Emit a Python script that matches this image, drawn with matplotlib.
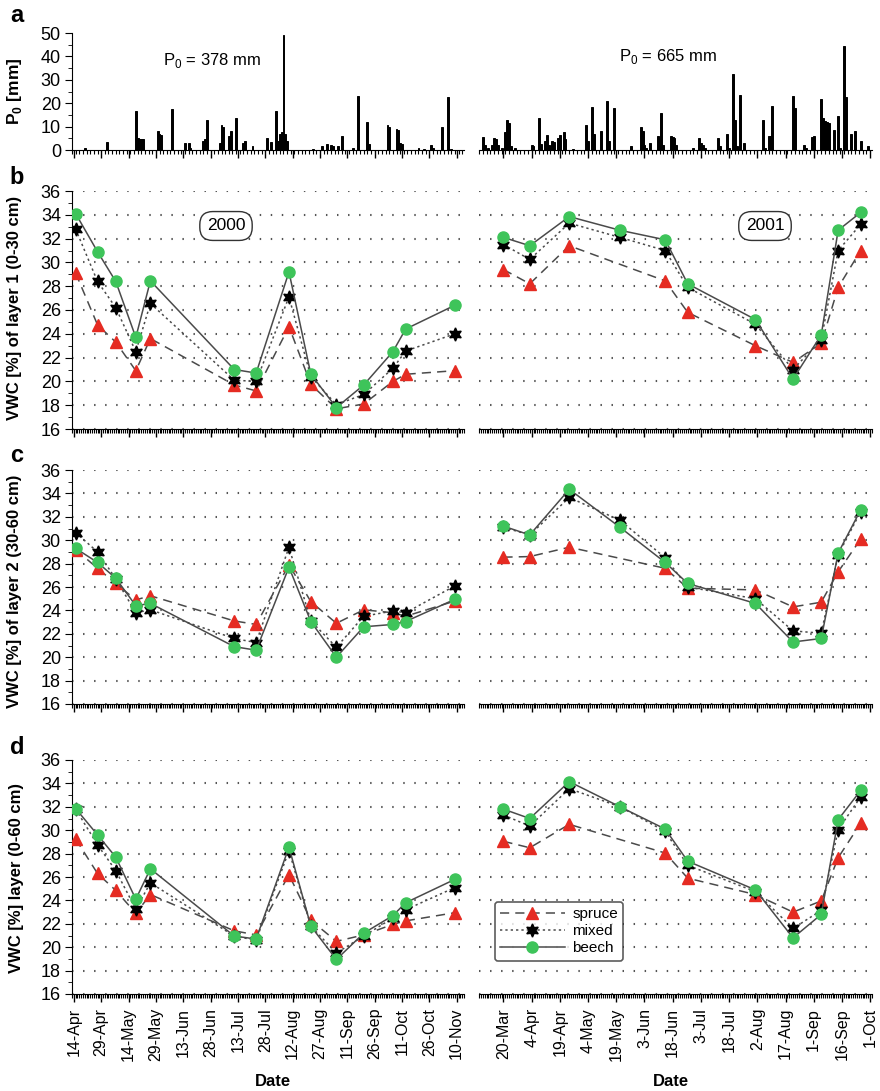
import numpy as np
import matplotlib.pyplot as plt
import matplotlib.dates as mdates
from matplotlib.ticker import MultipleLocator, FixedLocator

plt.rcParams['font.family'] = ['Liberation Sans', 'DejaVu Sans']
plt.rcParams['mathtext.fontset'] = 'custom'
plt.rcParams['mathtext.rm'] = 'Liberation Sans'
plt.rcParams['mathtext.bf'] = 'Liberation Sans:bold'

nan = np.nan

# ---- daily precipitation (panel a) ----
rain_2000_dates = ['04-20', '05-02', '05-18', '05-19', '05-20', '05-21', '05-22', '05-30',
                   '05-31', '06-01', '06-07', '06-14', '06-16', '06-17', '06-24', '06-25',
                   '06-26', '07-03', '07-04', '07-05', '07-08', '07-09', '07-12', '07-16',
                   '07-17', '07-21', '07-29', '07-31', '08-03', '08-04', '08-05', '08-06',
                   '08-07', '08-08', '08-09', '08-23', '08-28', '08-31', '09-02', '09-03',
                   '09-06', '09-08', '09-14', '09-17', '09-22', '09-23', '10-03', '10-04',
                   '10-08', '10-09', '10-10', '10-11', '10-20', '10-23', '10-27', '10-28',
                   '11-02', '11-05', '11-07']
rain_2000_mm = [1, 3.5, 16.5, 5, 4.5, 4.5, 4.5, 8,
                7, 6.5, 17.5, 3, 3, 1, 4, 4.5,
                13, 3, 10.5, 10, 6, 8, 13.5, 3,
                4, 1.5, 5, 3.5, 16.5, 4, 7, 7.5,
                49, 7, 4, 0.5, 1.5, 2.5, 2, 1.5,
                1.5, 6, 1, 23, 12, 2.5, 10.5, 10,
                9, 8.5, 3, 2.5, 1, 0.5, 2, 1,
                10, 22.5, 0.5]

rain_2001_dates = ['03-09', '03-10', '03-12', '03-14', '03-15', '03-16', '03-17', '03-19',
                   '03-21', '03-22', '03-23', '03-24', '03-26', '04-04', '04-05', '04-08',
                   '04-09', '04-11', '04-12', '04-13', '04-15', '04-16', '04-18', '04-19',
                   '04-21', '04-22', '04-26', '05-03', '05-04', '05-06', '05-07', '05-11',
                   '05-14', '05-15', '05-18', '05-27', '06-01', '06-02', '06-03', '06-04',
                   '06-06', '06-10', '06-11', '06-12', '06-13', '06-17', '06-18', '06-19',
                   '06-20', '06-29', '07-02', '07-03', '07-04', '07-05', '07-12', '07-13',
                   '07-17', '07-18', '07-20', '07-21', '07-22', '07-24', '07-26', '08-05',
                   '08-06', '08-08', '08-09', '08-10', '08-21', '08-22', '08-27', '08-28',
                   '08-31', '09-01', '09-05', '09-06', '09-07', '09-08', '09-09', '09-12',
                   '09-14', '09-15', '09-17', '09-18', '09-21', '09-23', '09-26', '09-30']
rain_2001_mm = [5.5, 2, 1, 2, 5, 4.5, 2, 1,
                7.5, 13, 11.5, 1.5, 1, 2, 1.5, 13.5,
                2.5, 4, 6.5, 2, 4, 3.5, 5, 6.5,
                7.5, 4.5, 0.5, 10.5, 4, 18.5, 7, 8,
                21, 4, 18, 1.5, 10, 8, 2, 1,
                3, 6, 4.5, 16, 2, 6, 5.5, 5,
                2, 1, 5, 3, 2, 1, 5, 1.5,
                7, 1, 32.5, 13, 1.5, 23.5, 3, 13,
                1, 6, 6, 19, 23, 18, 2, 1,
                5.5, 6, 22, 13.5, 12.5, 12, 11.5, 8.5,
                14.5, 1, 44.5, 22.5, 7, 8, 4, 1.5]

# ---- sampling dates ----
dates_2000 = ['04-15', '04-27', '05-07', '05-18', '05-26', '07-11', '07-23',
              '08-10', '08-22', '09-05', '09-20', '10-06', '10-13', '11-09']
dates_2001 = ['03-20', '04-03', '04-24', '05-21', '06-14', '06-26', '08-01',
              '08-21', '09-05', '09-14', '09-26']

# ---- VWC layer 1 (0-30 cm) ----
l1_2000_spruce = [29.1, 24.75, 23.3, 20.9, 23.6, 19.7, 19.2, 24.6, 19.75, 17.7, 18.1, 20.0, 20.6, 20.9]
l1_2000_mixed = [32.8, 28.4, 26.2, 22.5, 26.55, 20.1, 20.0, 27.1, 20.4, 18.05, 18.9, 21.1, 22.55, 24.0]
l1_2000_beech = [34.1, 30.9, 28.4, 23.7, 28.45, 21.0, 20.7, 29.2, 20.6, 17.8, 19.7, 22.5, 24.4, 26.4]
l1_2001_spruce = [29.4, 28.2, 31.4, nan, 28.45, 25.8, 23.0, 21.6, 23.2, 27.9, 31.0]
l1_2001_mixed = [31.5, 30.25, 33.3, 32.1, 31.0, 27.9, 24.8, 21.0, 23.5, 31.0, 33.2]
l1_2001_beech = [32.1, 31.4, 33.85, 32.7, 31.9, 28.2, 25.2, 20.2, 23.9, 32.7, 34.2]

# ---- VWC layer 2 (30-60 cm) ----
l2_2000_spruce = [29.2, 27.6, 26.3, 24.9, 25.25, 23.1, 22.8, 27.9, 24.75, 22.9, 24.05, 23.8, 23.5, 24.8]
l2_2000_mixed = [30.65, 29.0, 26.7, 23.8, 24.05, 21.6, 21.25, 29.4, 23.1, 20.85, 23.5, 23.95, 23.8, 26.1]
l2_2000_beech = [29.3, 28.1, 26.75, 24.4, 24.6, 20.9, 20.6, 27.7, 23.05, 20.0, 22.6, 22.8, 23.05, 24.95]
l2_2001_spruce = [28.55, 28.6, 29.4, nan, 27.6, 25.9, 25.75, 24.3, 24.7, 27.3, 30.1]
l2_2001_mixed = [31.1, 30.45, 33.65, 31.7, 28.5, 26.0, 25.0, 22.25, 22.05, 28.75, 32.45]
l2_2001_beech = [31.2, 30.45, 34.35, 31.1, 28.1, 26.3, 24.6, 21.3, 21.6, 28.9, 32.6]

# ---- VWC whole layer (0-60 cm) ----
tot_2000_spruce = [29.25, 26.3, 24.85, 22.9, 24.5, 21.4, 21.05, 26.2, 22.3, 20.5, 21.05, 21.95, 22.25, 22.95]
tot_2000_mixed = [31.8, 28.75, 26.55, 23.25, 25.5, 20.95, 20.6, 28.25, 21.8, 19.5, 20.95, 22.5, 23.2, 25.1]
tot_2000_beech = [31.85, 29.6, 27.7, 24.1, 26.7, 20.95, 20.7, 28.55, 21.8, 18.95, 21.2, 22.7, 23.8, 25.8]
tot_2001_spruce = [29.05, 28.5, 30.5, nan, 28.05, 25.9, 24.5, 23.0, 23.95, 27.65, 30.6]
tot_2001_mixed = [31.3, 30.35, 33.55, 32.0, 29.9, 27.0, 24.75, 21.6, 23.15, 30.05, 32.85]
tot_2001_beech = [31.8, 31.0, 34.15, 32.0, 30.1, 27.35, 24.9, 20.8, 22.8, 30.9, 33.4]


def to_dates(year, md):
    return np.array([np.datetime64(f'{year}-{d}') for d in md])


W, H = 880, 1091
fig = plt.figure(figsize=(W / 100, H / 100), dpi=100)


def rect(x0, x1, ytop, ybot):
    return [x0 / W, 1 - ybot / H, (x1 - x0) / W, (ybot - ytop) / H]


cols = {2000: (72, 464), 2001: (479, 872)}
rows = {'a': (33, 150), 'b': (191, 429), 'c': (470, 704), 'd': (760, 994)}
xlims = {2000: (np.datetime64('2000-04-13'), np.datetime64('2000-11-14')),
         2001: (np.datetime64('2001-03-07'), np.datetime64('2001-10-02'))}
first_tick = {2000: '2000-04-14', 2001: '2001-03-20'}

line_col = '#4a4a4a'
TS = 13


def setup_x(ax, year, daily=1, labels=False):
    lo, hi = xlims[year]
    ax.set_xlim(lo, hi)
    ticks = np.arange(np.datetime64(first_tick[year]), hi, np.timedelta64(15, 'D'))
    ax.xaxis.set_major_locator(FixedLocator(mdates.date2num(ticks)))
    ax.xaxis.set_minor_locator(mdates.DayLocator(interval=daily))
    ax.xaxis.set_major_formatter(mdates.DateFormatter('%-d-%b'))
    ax.tick_params(axis='x', which='major', length=6, width=1, direction='out')
    ax.tick_params(axis='x', which='minor', length=3, width=0.8, direction='out')
    if labels:
        ax.tick_params(axis='x', labelrotation=90, labelsize=11.5, pad=4)
    else:
        ax.tick_params(axis='x', labelbottom=False)
    for s in ['top', 'right']:
        ax.spines[s].set_visible(False)
    if year == 2001:
        ax.spines['left'].set_visible(False)
        ax.tick_params(axis='y', which='both', left=False, labelleft=False)
    else:
        ax.tick_params(axis='y', which='major', length=5, labelsize=TS, pad=3)
        ax.tick_params(axis='y', which='minor', length=3)


# ---- panel a ----
for year, md, mm in [(2000, rain_2000_dates, rain_2000_mm), (2001, rain_2001_dates, rain_2001_mm)]:
    ax = fig.add_axes(rect(*cols[year], *rows['a']))
    ax.bar(to_dates(year, md), mm, width=1.0, color='black', edgecolor='black',
           linewidth=0.7, align='center')
    ax.set_ylim(0, 50)
    ax.yaxis.set_major_locator(MultipleLocator(10))
    ax.yaxis.set_minor_locator(MultipleLocator(5))
    setup_x(ax, year, daily=2)

fig.text(212 / W, 1 - 60 / H, 'P$_0$ = 378 mm', ha='center', va='center', fontsize=12)
fig.text(668 / W, 1 - 57 / H, 'P$_0$ = 665 mm', ha='center', va='center', fontsize=12)

# ---- panels b-d ----
panels = [
    ('b', {2000: (l1_2000_spruce, l1_2000_mixed, l1_2000_beech),
           2001: (l1_2001_spruce, l1_2001_mixed, l1_2001_beech)}),
    ('c', {2000: (l2_2000_spruce, l2_2000_mixed, l2_2000_beech),
           2001: (l2_2001_spruce, l2_2001_mixed, l2_2001_beech)}),
    ('d', {2000: (tot_2000_spruce, tot_2000_mixed, tot_2000_beech),
           2001: (tot_2001_spruce, tot_2001_mixed, tot_2001_beech)}),
]

axes = {}
for key, data in panels:
    for year in (2000, 2001):
        ax = fig.add_axes(rect(*cols[year], *rows[key]))
        axes[(key, year)] = ax
        dts = to_dates(year, dates_2000 if year == 2000 else dates_2001)
        spruce, mixed, beech = [np.array(v, dtype=float) for v in data[year]]
        m = ~np.isnan(spruce)
        ax.plot(dts[m], spruce[m], color=line_col, lw=1.1, ls=(0, (6, 4)),
                marker='^', ms=8.5, mfc='#e52b22', mec='#e52b22', label='spruce', zorder=3)
        ax.plot(dts, mixed, color=line_col, lw=1.1, ls=(0, (1.5, 2)),
                marker=(6, 1, 0), ms=9.5, mfc='black', mec='black', label='mixed', zorder=4)
        ax.plot(dts, beech, color=line_col, lw=1.1, ls='-',
                marker='o', ms=8, mfc='#3ec45a', mec='#3ec45a', label='beech', zorder=5)
        ax.set_ylim(16, 36)
        ax.yaxis.set_major_locator(MultipleLocator(2))
        ax.yaxis.set_minor_locator(MultipleLocator(1))
        ax.grid(axis='y', which='major', color='#555555', lw=1.5, ls=(0, (0.7, 4.6)))
        ax.set_axisbelow(True)
        setup_x(ax, year, daily=1, labels=(key == 'd'))

box = dict(boxstyle='round,pad=0.4,rounding_size=0.75', fc='white', ec='#333333', lw=1)
axes[('b', 2000)].text(226 / W, 1 - 226 / H, '2000', transform=fig.transFigure,
                       ha='center', va='center', fontsize=12.5, bbox=box, zorder=10)
axes[('b', 2001)].text(765 / W, 1 - 226 / H, '2001', transform=fig.transFigure,
                       ha='center', va='center', fontsize=12.5, bbox=box, zorder=10)

leg = axes[('d', 2001)].legend(loc='upper left', bbox_to_anchor=(495 / W, 1 - 902 / H),
                               bbox_transform=fig.transFigure, fontsize=11, frameon=True,
                               fancybox=True, handlelength=4.2, borderpad=0.35,
                               labelspacing=0.2, handletextpad=0.5, borderaxespad=0)
leg.get_frame().set_edgecolor('#333333')
leg.get_frame().set_linewidth(1.2)

# ---- panel letters and axis titles ----
for letter, y in [('a', 15), ('b', 177), ('c', 455), ('d', 748)]:
    fig.text(17 / W, 1 - y / H, letter, ha='center', va='center', fontsize=17, fontweight='bold')

fig.text(15 / W, 1 - 91 / H, r'P$_\mathbf{0}$ [mm]', rotation=90, ha='center', va='center',
         fontsize=12.5, fontweight='bold')
fig.text(15 / W, 1 - 308 / H, 'VWC [%] of layer 1 (0-30 cm)', rotation=90, ha='center',
         va='center', fontsize=12, fontweight='bold')
fig.text(15 / W, 1 - 591 / H, 'VWC [%] of layer 2 (30-60 cm)', rotation=90, ha='center',
         va='center', fontsize=12, fontweight='bold')
fig.text(17 / W, 1 - 878 / H, 'VWC [%] layer (0-60 cm)', rotation=90, ha='center',
         va='center', fontsize=12, fontweight='bold')

fig.text(273 / W, 1 - 1081 / H, 'Date', ha='center', va='center', fontsize=12, fontweight='bold')
fig.text(671 / W, 1 - 1081 / H, 'Date', ha='center', va='center', fontsize=12, fontweight='bold')

fig.savefig('out.png', dpi=100)
